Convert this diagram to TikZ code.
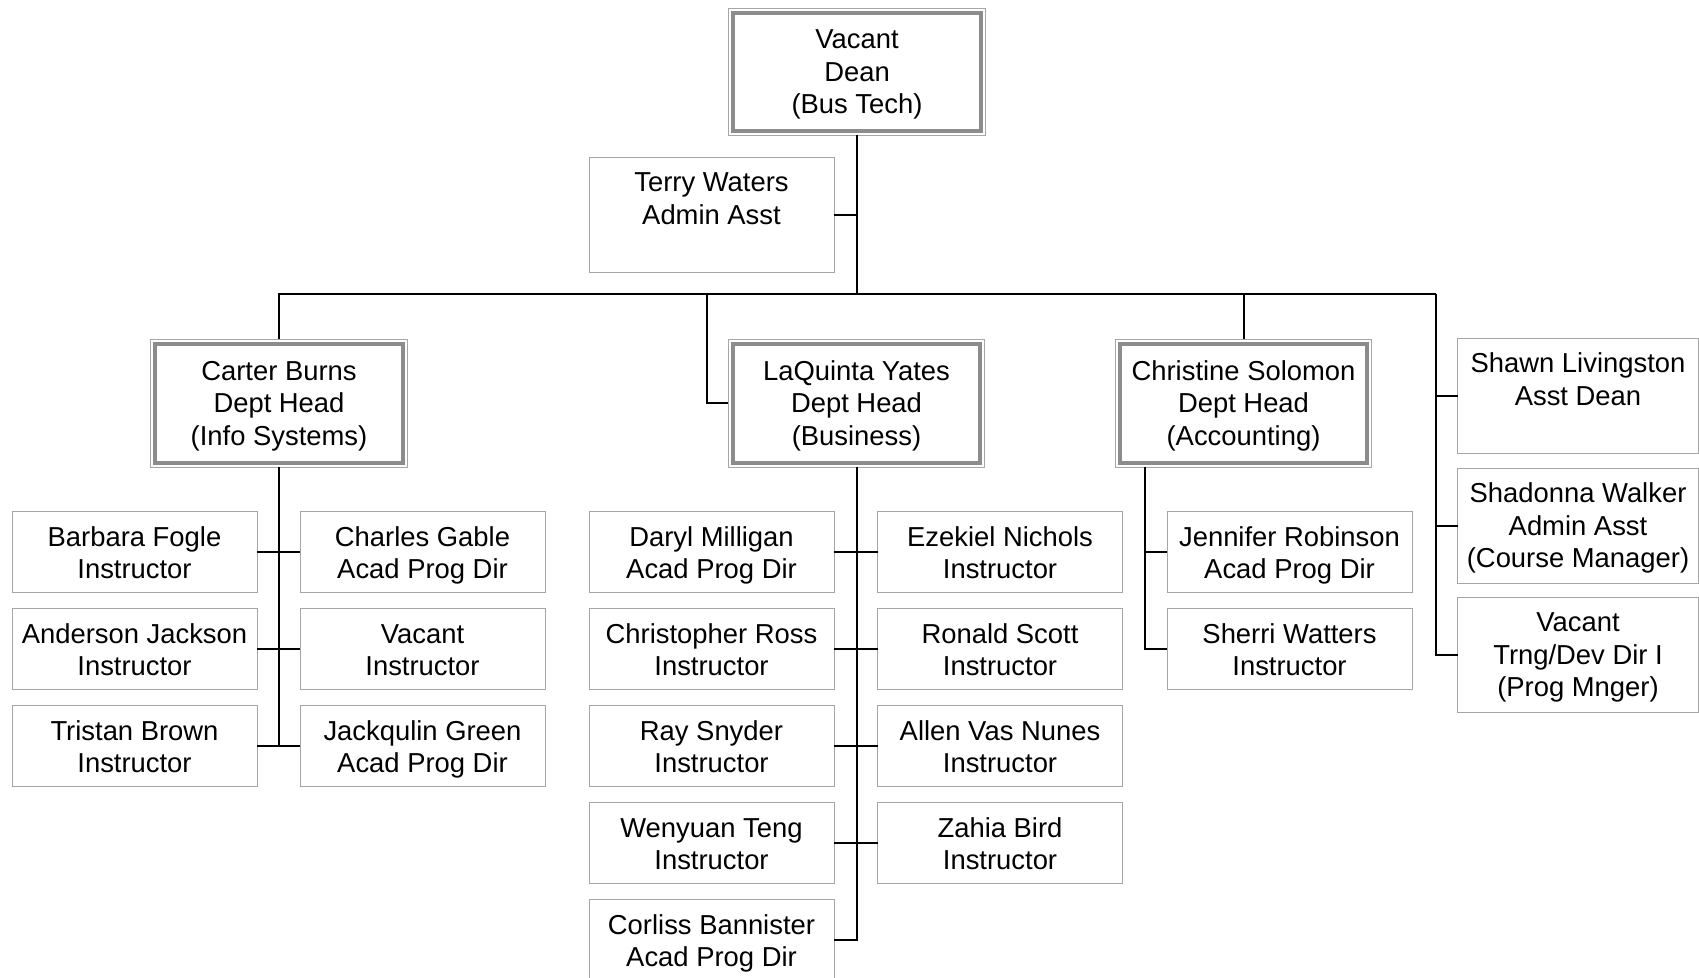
\documentclass[tikz,border=0pt]{standalone}
\usepackage{fontspec}
\setmainfont{Liberation Sans}
\definecolor{framegray}{HTML}{A6A6A6}
\definecolor{thickgray}{HTML}{8C8C8C}
\begin{document}
\begin{tikzpicture}[x=1pt,y=-1pt,
  txt/.style={font=\fontsize{27.4}{32.5}\selectfont, align=center, inner sep=0pt, outer sep=0pt,
    text height=60pt, text depth=7pt},
  three/.style={text height=91pt},
  box/.style={txt, draw=framegray, line width=1pt, fill=white, minimum width=245pt, minimum height=81pt},
  tallbox/.style={box, three, minimum height=115pt},
  sidebox/.style={tallbox, minimum width=241pt},
  head/.style={txt, three, draw=thickgray, line width=4pt, fill=white, minimum width=247.5pt, minimum height=119pt},
  frame/.style={draw=framegray, line width=1pt},
  link/.style={draw=black, line width=2pt}]
\useasboundingbox (0,0) rectangle (1699,977);

% top level
\node[head, minimum height=118pt] (dean) at (857,71.5) {Vacant\\Dean\\(Bus Tech)};
\node[tallbox] (terry) at (711.5,214.5) {Terry Waters\\Admin Asst\\\mbox{}};

% department heads
\node[head] (carter) at (279,403) {Carter Burns\\Dept Head\\(Info Systems)};
\node[head] (laquinta) at (856.5,403) {LaQuinta Yates\\Dept Head\\(Business)};
\node[head] (christine) at (1243.5,403) {Christine Solomon\\Dept Head\\(Accounting)};

\foreach \n in {dean,carter,laquinta,christine}
  \draw[frame] ([shift={(-4.5pt,4.5pt)}]\n.north west) rectangle ([shift={(4.5pt,-4.5pt)}]\n.south east);

% side staff
\node[sidebox] (shawn) at (1578,395.5) {Shawn Livingston\\Asst Dean\\\mbox{}};
\node[sidebox] (shadonna) at (1578,525.5) {Shadonna Walker\\Admin Asst\\(Course Manager)};
\node[sidebox] (vacanttd) at (1578,654.5) {Vacant\\Trng/Dev Dir I\\(Prog Mnger)};

% Info Systems
\node[box] (c1L) at (134.5,552) {Barbara Fogle\\Instructor};
\node[box] (c2L) at (134.5,649) {Anderson Jackson\\Instructor};
\node[box] (c3L) at (134.5,746) {Tristan Brown\\Instructor};
\node[box] (c1R) at (422.5,552) {Charles Gable\\Acad Prog Dir};
\node[box] (c2R) at (422.5,649) {Vacant\\Instructor};
\node[box] (c3R) at (422.5,746) {Jackqulin Green\\Acad Prog Dir};

% Business
\node[box] (l1L) at (711.5,552) {Daryl Milligan\\Acad Prog Dir};
\node[box] (l2L) at (711.5,649) {Christopher Ross\\Instructor};
\node[box] (l3L) at (711.5,746) {Ray Snyder\\Instructor};
\node[box] (l4L) at (711.5,843) {Wenyuan Teng\\Instructor};
\node[box] (l5L) at (711.5,940) {Corliss Bannister\\Acad Prog Dir};
\node[box] (l1R) at (1000,552) {Ezekiel Nichols\\Instructor};
\node[box] (l2R) at (1000,649) {Ronald Scott\\Instructor};
\node[box] (l3R) at (1000,746) {Allen Vas Nunes\\Instructor};
\node[box] (l4R) at (1000,843) {Zahia Bird\\Instructor};

% Accounting
\node[box] (k1) at (1289.5,552) {Jennifer Robinson\\Acad Prog Dir};
\node[box] (k2) at (1289.5,649) {Sherri Watters\\Instructor};

% connectors
\coordinate (rtop) at (1436,294);
\coordinate (lqdrop) at (706.5,294);
\coordinate (kspine) at (1145,467);

\draw[link] ([yshift=-4.5pt]dean.south) -- (dean.south |- rtop);
\draw[link] (terry.east) -- (terry.east -| dean.south);
\draw[link] ([yshift=4.5pt]carter.north) |- (rtop);
\draw[link] (rtop) |- (vacanttd.west);
\draw[link] (shawn.west -| rtop) -- (shawn.west);
\draw[link] (shadonna.west -| rtop) -- (shadonna.west);
\draw[link] ([yshift=4.5pt]christine.north) -- (christine.north |- rtop);
\draw[link] (lqdrop) |- ([xshift=-4.5pt]laquinta.west);

\draw[link] ([yshift=-4.5pt]carter.south) -- (carter.south |- c3L.east);
\foreach \r in {1,2,3} \draw[link] (c\r L.east) -- (c\r R.west);

\draw[link] ([yshift=-4.5pt]laquinta.south) |- (l5L.east);
\foreach \r in {1,2,3,4} \draw[link] (l\r L.east) -- (l\r R.west);

\draw[link] (kspine) |- (k2.west);
\draw[link] (kspine |- k1.west) -- (k1.west);
\end{tikzpicture}
\end{document}
